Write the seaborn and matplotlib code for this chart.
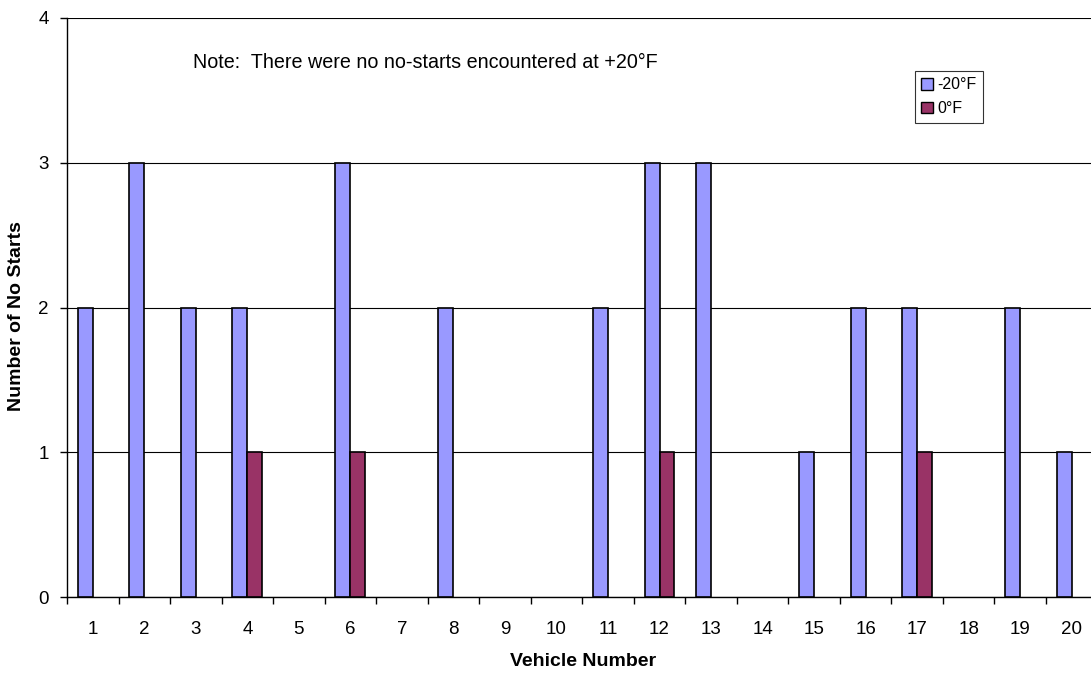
import matplotlib
matplotlib.use("Agg")
import matplotlib.pyplot as plt
import seaborn as sns
import pandas as pd
from matplotlib.ticker import MultipleLocator, FixedLocator
from matplotlib.patches import Patch

# Vehicle numbers and no-start counts per test temperature
vehicles = [str(v) for v in range(1, 21)]
minus20 = [2, 3, 2, 2, 0, 3, 0, 2, 0, 0, 2, 3, 3, 0, 1, 2, 2, 0, 2, 1]
zero_f = [0, 0, 0, 1, 0, 1, 0, 0, 0, 0, 0, 1, 0, 0, 0, 0, 1, 0, 0, 0]
series_names = ["-20°F", "0°F"]
series_colors = ["#9999FF", "#993366"]

rows = []
for v, a, b in zip(vehicles, minus20, zero_f):
    rows.append({"vehicle": v, "temp": series_names[0], "count": a})
    rows.append({"vehicle": v, "temp": series_names[1], "count": b})
df = pd.DataFrame(rows)
# zero counts draw no bar
df_bars = df[df["count"] > 0]

sns.set_style("white")
plt.rcParams["font.family"] = ["Liberation Sans", "DejaVu Sans"]
plt.rcParams["text.color"] = "black"
plt.rcParams["axes.labelcolor"] = "black"
plt.rcParams["xtick.color"] = "black"
plt.rcParams["ytick.color"] = "black"

FS = 13.5
W, H = 1091, 675
fig = plt.figure(figsize=(W / 100, H / 100), dpi=100)
left, right, top, bottom = 67, 1097.5, 18, 597
ax = fig.add_axes([left / W, (H - bottom) / H, (right - left) / W, (bottom - top) / H])

sns.barplot(data=df_bars, x="vehicle", y="count", hue="temp",
            order=vehicles, hue_order=series_names,
            palette=series_colors, saturation=1, width=0.58, dodge=True,
            edgecolor="black", linewidth=1.2, ax=ax, legend=False, zorder=3)

ax.set_xlim(-0.5, len(vehicles) - 0.5)
ax.set_ylim(0, 4)
ax.yaxis.set_major_locator(MultipleLocator(1))
ax.grid(axis="y", color="black", linewidth=0.8, zorder=0)
ax.grid(axis="x", visible=False)
ax.get_ygridlines()[-1].set_color("#808080")

for s in ["top", "right"]:
    ax.spines[s].set_visible(False)
for s in ["left", "bottom"]:
    ax.spines[s].set_color("black")
    ax.spines[s].set_linewidth(1.0)

# category labels centred, tick marks on boundaries
ax.set_xticks(range(len(vehicles)))
ax.set_xticklabels(vehicles)
ax.xaxis.set_minor_locator(FixedLocator([i - 0.5 for i in range(len(vehicles) + 1)]))
ax.tick_params(axis="x", which="major", length=0, pad=17, labelsize=FS)
ax.tick_params(axis="x", which="minor", length=5, width=1, color="black", direction="out")
ax.tick_params(axis="y", which="major", length=5, width=1, color="black",
               direction="out", labelsize=FS, pad=8)
ax.tick_params(left=True, bottom=True, which="both")

# axis titles at fixed figure positions
ax.set_xlabel("Vehicle Number", fontsize=14, fontweight="bold")
ax.set_ylabel("Number of No Starts", fontsize=14, fontweight="bold")
ax.xaxis.set_label_coords(583 / W, 1 - 661 / H, transform=fig.transFigure)
ax.xaxis.label.set_va("center")
ax.yaxis.set_label_coords(17 / W, 1 - 316 / H, transform=fig.transFigure)
ax.yaxis.label.set_va("center")

fig.text(193 / W, 1 - 62 / H, "Note:  There were no no-starts encountered at +20°F",
         fontsize=14.2, va="center", ha="left")

handles = [Patch(facecolor=c, edgecolor="black", linewidth=1.0) for c in series_colors]
leg = ax.legend(handles, series_names, loc="upper left",
                bbox_to_anchor=((915 - left) / (right - left), 1 - (71 - top) / (bottom - top)),
                frameon=True, fancybox=False, edgecolor="black", fontsize=11.5,
                handlelength=0.75, handleheight=0.75, handletextpad=0.25,
                borderpad=0.4, labelspacing=0.55, borderaxespad=0)
leg.get_frame().set_linewidth(0.8)

fig.savefig("out.png", dpi=100)
